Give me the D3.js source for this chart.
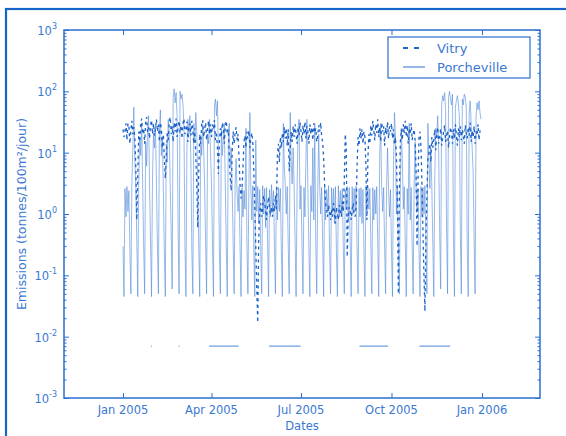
<!DOCTYPE html>
<html>
<head>
<meta charset="utf-8">
<script src="https://cdn.jsdelivr.net/npm/d3@7"></script>
<style>
body { margin: 0; background: #fff; }
svg { display: block; }
</style>
</head>
<body>
<svg id="chart" width="566" height="436"></svg>
<script>
// daily values, from 1 Jan 2005 (one row per month)
var vitry = [
	24, 18, 22, 30, 16, 30, 27, 14, 23, 33, 20, 26, 18, 6, 0.8, 4, 22, 15, 30, 36, 20, 25, 14, 31, 38, 22, 26, 17, 28, 34, 20,
	30, 19, 25, 35, 22, 29, 15, 31, 24, 12, 20, 8, 3.8, 8, 22, 16, 30, 38, 20, 27, 15, 31, 22, 36, 18, 26, 33, 21,
	28, 17, 30, 36, 20, 24, 32, 15, 26, 30, 19, 33, 22, 14, 25, 9, 3, 0.6, 5, 20, 14, 29, 34, 18, 24, 31, 16, 25, 33, 20, 29,
	18, 29, 24, 34, 16, 22, 12, 4.5, 15, 25, 18, 31, 26, 14, 27, 33, 20, 24, 9, 4, 2.4, 10, 22, 14, 21, 26, 16, 20, 8, 3,
	1.8, 2.5, 6, 15, 19, 12, 22, 17, 23, 12, 17, 21, 14, 5, 1.2, 0.3, 0.06, 0.017, 0.4, 1.1, 1.5, 0.9, 1.3, 2, 1.6, 1.1, 0.8, 1.4, 1.9, 1.2, 1,
	1.3, 0.9, 1.5, 1.1, 2, 1.2, 9, 14, 7, 18, 12, 21, 15, 26, 17, 25, 13, 24, 5, 12, 22, 15, 27, 18, 29, 20, 14, 26, 19, 31,
	22, 15, 28, 20, 32, 17, 27, 22, 14, 29, 20, 26, 16, 30, 21, 25, 15, 19, 28, 22, 31, 18, 15, 8, 3, 1.5, 1.2, 0.9, 1.4, 1.1, 0.8,
	1.2, 0.9, 1.5, 1.1, 0.7, 1.3, 1, 0.8, 1.4, 1.2, 0.9, 1.6, 1.1, 3.5, 20, 12, 0.2, 0.9, 1.3, 1.1, 0.8, 1.2, 1.5, 1, 0.9, 1.3, 6, 18, 13, 25, 17,
	24, 14, 22, 18, 6, 0.8, 8, 20, 14, 28, 19, 33, 23, 16, 29, 21, 35, 18, 26, 15, 31, 22, 27, 13, 26, 20, 32, 17, 27, 22,
	30, 17, 24, 14, 18, 9, 1.5, 0.05, 2, 15, 24, 16, 29, 21, 33, 18, 28, 14, 25, 20, 30, 16, 20, 24, 16, 5, 0.3, 4, 18, 22, 12,
	3, 0.5, 0.1, 0.026, 0.4, 2, 8, 10, 14, 7, 18, 12, 16, 24, 11, 19, 26, 14, 18, 25, 13, 17, 22, 28, 15, 19, 23, 12, 18, 26,
	21, 14, 24, 17, 29, 19, 13, 25, 18, 27, 16, 24, 20, 14, 28, 21, 17, 26, 19, 31, 15, 23, 18, 27, 14, 22, 19, 29, 16, 23, 21
];

// daily values, from 1 Jan 2005 (one row per week, sat -> fri)
var porcheville = [
	0.3, 0.045, 2.6, 0.9, 2.8, 1.1, 2.4,
	0.25, 0.05, 3, 12, 55, 8, 2.7,
	0.4, 0.045, 2.9, 18, 9, 30, 3,
	0.3, 0.05, 15, 6, 25, 40, 2.8,
	0.35, 0.045, 4, 20, 12, 28, 3.2,
	0.3, 0.05, 22, 50, 9, 18, 2.6,
	0.25, 0.045, 14, 7, 35, 20, 3,
	0.5, 0.06, 80, 110, 65, 95, 40,
	0.6, 0.05, 100, 75, 90, 60, 25,
	0.3, 0.045, 12, 35, 20, 40, 8,
	0.25, 0.05, 30, 15, 45, 22, 3,
	0.3, 0.045, 18, 9, 28, 12, 2.8,
	0.35, 0.05, 20, 14, 35, 10, 3.1,
	0.3, 0.045, 60, 75, 40, 70, 12,
	0.25, 0.05, 25, 9, 18, 30, 2.9,
	0.3, 0.045, 14, 30, 6, 12, 2.6,
	0.35, 0.05, 3, 8, 2.2, 1.1, 2.8,
	0.3, 0.045, 2.7, 0.9, 2.4, 1.2, 25,
	0.3, 0.05, 3, 45, 2.6, 0.8, 2.9,
	0.25, 0.045, 16, 1.1, 2.8, 0.7, 2.5,
	0.3, 0.05, 2.9, 1, 2.6, 0.6, 2.7,
	0.35, 0.045, 2.5, 0.9, 3, 1.2, 2.4,
	0.3, 0.05, 2.8, 0.8, 2.7, 1.1, 2.6,
	0.25, 0.045, 30, 6, 2.9, 1, 2.8,
	0.3, 0.05, 45, 8, 3.1, 12, 2.7,
	0.35, 0.045, 2.6, 25, 35, 1.2, 2.9,
	0.3, 0.05, 2.7, 0.9, 8, 35, 2.5,
	0.25, 0.045, 2.9, 1.1, 12, 0.8, 30,
	0.3, 0.05, 2.6, 20, 2.8, 1, 2.7,
	0.35, 0.045, 2.8, 0.8, 2.5, 1.2, 2.9,
	0.3, 0.05, 2.7, 1.1, 2.6, 0.7, 2.8,
	0.25, 0.045, 2.9, 0.9, 2.4, 1, 2.6,
	0.3, 0.05, 2.5, 1.2, 2.8, 0.8, 2.7,
	0.35, 0.045, 2.8, 1, 2.6, 1.1, 2.9,
	0.3, 0.05, 2.6, 0.9, 2.7, 0.7, 2.5,
	0.25, 0.045, 2.9, 1.1, 2.8, 1.2, 2.6,
	0.3, 0.05, 2.7, 0.8, 2.5, 1, 2.8,
	0.35, 0.045, 9, 30, 2.9, 1.1, 2.7,
	0.3, 0.05, 2.8, 12, 2.6, 0.9, 2.5,
	0.25, 0.045, 6, 45, 20, 1, 2.9,
	0.3, 0.05, 2.7, 25, 8, 1.2, 2.8,
	0.35, 0.045, 2.6, 1, 30, 0.8, 2.7,
	0.3, 0.05, 2.9, 15, 2.5, 1.1, 2.6,
	0.25, 0.045, 2.8, 0.9, 2.7, 1, 2.9,
	0.3, 0.05, 30, 8, 2.6, 12, 2.8,
	0.35, 0.045, 4, 25, 18, 40, 10,
	0.5, 0.06, 60, 85, 70, 95, 50,
	0.6, 0.05, 80, 100, 75, 60, 90,
	0.4, 0.045, 55, 70, 85, 65, 40,
	0.5, 0.05, 75, 60, 90, 80, 55,
	0.3, 0.045, 45, 70, 30, 12, 5,
	0.4, 0.05, 40, 65, 50, 70, 45,
	35
];

// periods where porcheville sits at the floor value
var arretStart = ["2005-01-30", "2005-02-27", "2005-03-30", "2005-05-30", "2005-08-30", "2005-10-30"];
var arretEnd   = ["2005-01-30", "2005-02-27", "2005-04-28", "2005-06-30", "2005-09-27", "2005-11-29"];
var arretLevel = 0.007;

var xTickDates = ["2005-01-01", "2005-04-01", "2005-07-01", "2005-10-01", "2006-01-01"];
var xTickLabels = ["Jan 2005", "Apr 2005", "Jul 2005", "Oct 2005", "Jan 2006"];
var yTickExps = [-3, -2, -1, 0, 1, 2, 3];

var parse = d3.timeParse("%Y-%m-%d");
var blue = "#2b6fcf";
var textBlue = "#3a78d2";

var svg = d3.select("#chart");
var pL = 64, pR = 540, pT = 30, pB = 398;

// soft edges, the reference looks slightly blurred
svg.append("defs").append("filter")
	.attr("id", "soft")
	.append("feGaussianBlur")
	.attr("stdDeviation", 0.45);

// outer frame
svg.append("rect")
	.attr("x", 6).attr("y", 9)
	.attr("width", 600).attr("height", 460)
	.attr("fill", "#fff")
	.attr("stroke", "#1565c8")
	.attr("stroke-width", 2.2);

var x = d3.scaleTime()
	.domain([parse("2004-11-02"), parse("2006-03-01")])
	.range([pL, pR]);
var y = d3.scaleLog()
	.domain([1e-3, 1e3])
	.range([pB, pT]);

function dayDate(i) { return new Date(2005, 0, 1 + i); }

var plot = svg.append("g").attr("filter", "url(#soft)");

var line = d3.line()
	.x(function(d, i) { return x(dayDate(i)); })
	.y(function(d) { return y(d); });

plot.append("path")
	.datum(porcheville)
	.attr("d", line)
	.attr("fill", "none")
	.attr("stroke", "#4f88d8")
	.attr("stroke-width", 0.9)
	.attr("stroke-opacity", 0.65);

plot.selectAll(".arret")
	.data(arretStart)
	.enter()
	.append("line")
	.attr("class", "arret")
	.attr("x1", function(d) { return x(parse(d)); })
	.attr("x2", function(d, i) { return x(parse(arretEnd[i])); })
	.attr("y1", y(arretLevel))
	.attr("y2", y(arretLevel))
	.attr("stroke", "#6f9fe0")
	.attr("stroke-width", 1.3)
	.attr("stroke-linecap", "round");

plot.append("path")
	.datum(vitry)
	.attr("d", line)
	.attr("fill", "none")
	.attr("stroke", "#1f63c8")
	.attr("stroke-width", 1.3)
	.attr("stroke-dasharray", "3,3.5");

// axes box + ticks (matlab style, inside)
var axes = svg.append("g").attr("stroke", blue).attr("fill", "none");
axes.append("rect")
	.attr("x", pL).attr("y", pT)
	.attr("width", pR - pL).attr("height", pB - pT)
	.attr("stroke-width", 1.5);

var minor = [];
yTickExps.slice(0, -1).forEach(function(e) {
	for (var m = 2; m < 10; m++) minor.push(m * Math.pow(10, e));
});
var major = yTickExps.map(function(e) { return Math.pow(10, e); });

axes.append("g").attr("transform", "translate(" + pL + ",0)")
	.call(d3.axisRight(y).tickValues(major).tickSize(5).tickFormat(""));
axes.append("g").attr("transform", "translate(" + pR + ",0)")
	.call(d3.axisLeft(y).tickValues(major).tickSize(5).tickFormat(""));
axes.append("g").attr("transform", "translate(" + pL + ",0)")
	.call(d3.axisRight(y).tickValues(minor).tickSize(2.5).tickFormat(""));
axes.append("g").attr("transform", "translate(" + pR + ",0)")
	.call(d3.axisLeft(y).tickValues(minor).tickSize(2.5).tickFormat(""));
axes.append("g").attr("transform", "translate(0," + pB + ")")
	.call(d3.axisTop(x).tickValues(xTickDates.map(parse)).tickSize(5).tickFormat(""));
axes.append("g").attr("transform", "translate(0," + pT + ")")
	.call(d3.axisBottom(x).tickValues(xTickDates.map(parse)).tickSize(5).tickFormat(""));
axes.selectAll(".domain").remove();
axes.selectAll(".tick line").attr("stroke", blue).attr("stroke-width", 1);

// tick labels
var labels = svg.append("g")
	.attr("fill", textBlue)
	.attr("font-family", "'DejaVu Sans', sans-serif");

var yl = labels.selectAll(".ylab")
	.data(yTickExps)
	.enter()
	.append("text")
	.attr("class", "ylab")
	.attr("x", 57)
	.attr("y", function(d) { return y(Math.pow(10, d)) + 5; })
	.attr("text-anchor", "end")
	.attr("font-size", 11.5);
yl.append("tspan").text("10");
yl.append("tspan")
	.attr("dy", -6)
	.attr("font-size", 8)
	.text(function(d) { return d; });

labels.selectAll(".xlab")
	.data(xTickDates)
	.enter()
	.append("text")
	.attr("class", "xlab")
	.attr("x", function(d) { return x(parse(d)); })
	.attr("y", 414)
	.attr("text-anchor", "middle")
	.attr("font-size", 11.5)
	.text(function(d, i) { return xTickLabels[i]; });

labels.append("text")
	.attr("x", (pL + pR) / 2)
	.attr("y", 430)
	.attr("text-anchor", "middle")
	.attr("font-size", 11.5)
	.text("Dates");

labels.append("text")
	.attr("transform", "translate(26," + ((pT + pB) / 2) + ") rotate(-90)")
	.attr("text-anchor", "middle")
	.attr("font-size", 12.5)
	.text("Emissions (tonnes/100m²/jour)");

// legend
var leg = svg.append("g").attr("transform", "translate(388,37)");
leg.append("rect")
	.attr("width", 142).attr("height", 41)
	.attr("fill", "#fff")
	.attr("stroke", blue)
	.attr("stroke-width", 1.2);
leg.append("line")
	.attr("x1", 15).attr("x2", 37).attr("y1", 11).attr("y2", 11)
	.attr("stroke", "#1f63c8").attr("stroke-width", 1.8)
	.attr("stroke-dasharray", "5,6");
leg.append("line")
	.attr("x1", 15).attr("x2", 37).attr("y1", 30).attr("y2", 30)
	.attr("stroke", "#4f88d8").attr("stroke-width", 1.2);
leg.append("text")
	.attr("x", 49).attr("y", 16)
	.attr("fill", textBlue)
	.attr("font-family", "'DejaVu Sans', sans-serif")
	.attr("font-size", 13)
	.text("Vitry");
leg.append("text")
	.attr("x", 49).attr("y", 35)
	.attr("fill", textBlue)
	.attr("font-family", "'DejaVu Sans', sans-serif")
	.attr("font-size", 13)
	.text("Porcheville");
</script>
</body>
</html>
